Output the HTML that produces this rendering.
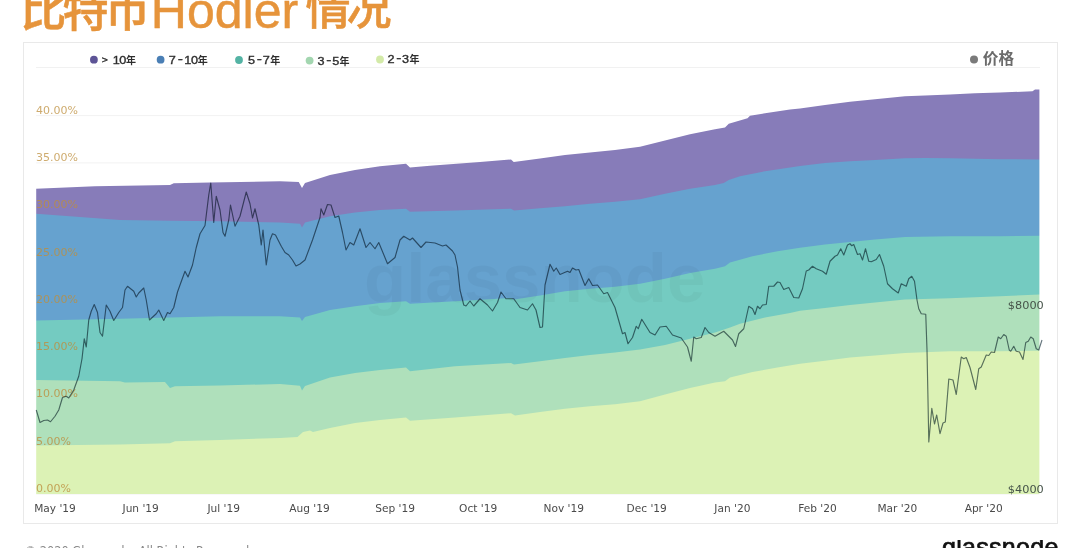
<!DOCTYPE html>
<html lang="zh"><head><meta charset="utf-8"><title>比特币Hodler情况</title>
<style>
html,body{margin:0;padding:0;background:#fff;}
body{width:1080px;height:548px;overflow:hidden;position:relative;font-family:"Liberation Sans","Noto Sans CJK SC",sans-serif;}
.title{position:absolute;left:0;top:0;margin:0;font-size:46px;font-weight:500;-webkit-text-stroke:0.6px #e6943b;color:#e6943b;white-space:nowrap;line-height:50px;letter-spacing:-4px;}
.title span{position:absolute;display:block;}
.t1{left:20.6px;top:-15px;}
.t2{left:150.8px;top:-19px;letter-spacing:0;font-size:50px;line-height:60px;font-weight:normal;-webkit-text-stroke:0.5px #e6943b;}
.t3{left:305.6px;top:-15px;font-size:45px;}
.card{position:absolute;left:23px;top:42px;width:1034.5px;height:482px;border:1px solid #e9e9e9;box-sizing:border-box;background:#fff;}
svg{position:absolute;left:0;top:0;}
.yl{font-family:"DejaVu Sans","Liberation Sans",sans-serif;font-size:11px;fill:#bd8f3e;}
.xl{font-family:"DejaVu Sans","Liberation Sans",sans-serif;font-size:10.6px;fill:#4a4a4a;}
.pl{font-family:"DejaVu Sans","Liberation Sans",sans-serif;font-size:11.3px;fill:#46544a;}
.lg{font-family:"Liberation Sans","Noto Sans CJK SC",sans-serif;font-size:11px;fill:#2e2e2e;stroke:#2e2e2e;stroke-width:0.35px;}
.nian{font-size:10px;font-weight:bold;stroke:none;}
.pg{font-family:"Liberation Sans","Noto Sans CJK SC",sans-serif;font-size:15.6px;font-weight:bold;fill:#6b6b6b;}
.wm{font-family:"Liberation Sans",sans-serif;font-size:69px;font-weight:bold;fill:#000;fill-opacity:0.03;}
.copy{position:absolute;left:24.7px;top:543.9px;line-height:14px;font-family:"DejaVu Sans","Liberation Sans",sans-serif;font-size:11.4px;color:#888;white-space:nowrap;}
.logowrap{position:absolute;left:900px;top:540px;width:180px;height:8px;overflow:hidden;}
.logo{position:absolute;left:42px;top:-8.3px;letter-spacing:0.3px;font-family:"Liberation Sans",sans-serif;font-size:25px;font-weight:normal;-webkit-text-stroke:0.7px #111;color:#111;white-space:nowrap;line-height:30px;}
</style></head><body>
<h1 class="title"><span class="t1">比特币</span><span class="t2">Hodler</span><span class="t3">情况</span></h1>
<div class="card"></div>
<svg width="1080" height="548" viewBox="0 0 1080 548">
<line x1="36" x2="1040" y1="67.5" y2="67.5" stroke="#f1f1f1" stroke-width="1"/>
<line x1="36" x2="1040" y1="494.0" y2="494.0" stroke="#f2f2f2" stroke-width="1"/>
<line x1="36" x2="1040" y1="446.7" y2="446.7" stroke="#f2f2f2" stroke-width="1"/>
<line x1="36" x2="1040" y1="399.4" y2="399.4" stroke="#f2f2f2" stroke-width="1"/>
<line x1="36" x2="1040" y1="352.1" y2="352.1" stroke="#f2f2f2" stroke-width="1"/>
<line x1="36" x2="1040" y1="304.8" y2="304.8" stroke="#f2f2f2" stroke-width="1"/>
<line x1="36" x2="1040" y1="257.5" y2="257.5" stroke="#f2f2f2" stroke-width="1"/>
<line x1="36" x2="1040" y1="210.2" y2="210.2" stroke="#f2f2f2" stroke-width="1"/>
<line x1="36" x2="1040" y1="162.9" y2="162.9" stroke="#f2f2f2" stroke-width="1"/>
<line x1="36" x2="1040" y1="115.6" y2="115.6" stroke="#f2f2f2" stroke-width="1"/>
<path d="M33,188.75 L36,188.75 L95,186.25 L170,185 L173.75,183.25 L210,182.5 L280,181.25 L298.75,182 L302,188 L305,183 L330,175 L355,170 L380,166.25 L406,163.75 L410,167.5 L430,165.75 L480,162 L511,159.5 L513.75,162 L540,158.5 L565,155 L590,152.5 L615,150 L640,146.75 L665,140.5 L690,134.25 L715,129.25 L725,127.5 L728.75,123.75 L747.5,118.25 L750,115.75 L765,113.25 L790,109.5 L800,108.5 L825,105 L850,101.75 L875,99.25 L905,96.25 L925,95.5 L950,94.5 L975,93.25 L1000,92.5 L1032.5,91.25 L1035,89.5 L1039.5,89.5 L1042.5,89.5 L1042.5,494 L33,494 Z" fill="#877cb9"/>
<path d="M33,213.75 L36,213.75 L70,216.25 L120,220 L170,220.75 L220,221.25 L280,222.5 L300,223.75 L302,227.5 L305,222.5 L330,216.25 L355,212.5 L380,210 L406,208.75 L410,211.75 L455,210.5 L511,208.75 L514,210.5 L540,208.3 L565,206.25 L590,203.75 L615,201.75 L640,199.25 L665,193.75 L690,188.75 L715,185 L723.75,183 L728.75,180 L740,176.25 L765,171.25 L790,167.5 L800,166 L825,163 L850,161.25 L875,160 L905,158.25 L925,158 L950,158.25 L975,158.75 L1000,159.25 L1039.5,159.5 L1042.5,159.5 L1042.5,494 L33,494 Z" fill="#66a2cf"/>
<path d="M33,320.5 L36,320.5 L120,318.75 L220,316.25 L280,316.25 L300,317.5 L302,321 L305,317 L330,310 L355,306.25 L380,303 L406,301.25 L410,303.75 L455,301.25 L511,298 L514,299.5 L540,295.5 L565,291.25 L590,288.75 L615,286.75 L640,283.75 L665,278.75 L690,273 L715,268.75 L725,266.25 L730,262.5 L752.5,256.25 L777.5,251.25 L800,247.8 L825,244.5 L850,242 L875,239.5 L905,237 L950,236.25 L1000,236.25 L1039.5,235.75 L1042.5,235.75 L1042.5,494 L33,494 Z" fill="#74cbc1"/>
<path d="M33,380 L36,380 L120,381.25 L125,382.5 L165,382 L170,388 L175,386.25 L220,385.5 L280,384 L300,385.75 L302,390.5 L305,386 L330,377.5 L355,373 L380,370 L406,367.5 L410,371.25 L455,366.25 L511,363 L514,364.5 L540,361.25 L565,358 L590,355 L615,352.5 L640,349.5 L665,345 L690,338.75 L715,332.5 L730,327.5 L740,323.75 L765,317.5 L790,313 L800,310.75 L825,308 L850,305 L875,302.5 L905,299.5 L950,298.25 L1000,296.25 L1039.5,294.5 L1042.5,294.5 L1042.5,494 L33,494 Z" fill="#afe0bb"/>
<path d="M33,445.5 L36,445.5 L120,444.5 L170,443.25 L175,441.25 L220,440 L280,438 L297.5,437 L303,432 L310,430.5 L313,432 L330,428 L355,423 L380,420 L406,417.5 L410,420.75 L455,417.5 L511,413.25 L515,415.5 L540,412 L565,408.75 L590,406.25 L615,404.25 L640,401.25 L665,394.5 L690,388 L715,382.5 L725,381.25 L730,377.5 L752.5,372 L777.5,367.5 L800,363.75 L825,360.75 L850,357.5 L875,355.5 L905,353 L950,351.25 L1000,351.25 L1039.5,350.75 L1042.5,350.75 L1042.5,494 L33,494 Z" fill="#dcf2b5"/>
<rect x="24.5" y="75" width="11.7" height="425" fill="#fff"/><rect x="1039.4" y="75" width="16.5" height="425" fill="#fff"/>
<text x="36" y="492.0" class="yl" fill-opacity="0.8">0.00%</text>
<text x="36" y="444.7" class="yl" fill-opacity="0.8">5.00%</text>
<text x="36" y="397.4" class="yl" fill-opacity="0.8">10.00%</text>
<text x="36" y="350.1" class="yl" fill-opacity="0.8">15.00%</text>
<text x="36" y="302.8" class="yl" fill-opacity="0.8">20.00%</text>
<text x="36" y="255.5" class="yl" fill-opacity="0.8">25.00%</text>
<text x="36" y="208.2" class="yl" fill-opacity="0.8">30.00%</text>
<text x="36" y="160.9" class="yl" fill-opacity="0.75">35.00%</text>
<text x="36" y="113.6" class="yl" fill-opacity="0.75">40.00%</text>
<text x="364" y="302" class="wm">glassnode</text>
<path d="M36.25,410 L40,422.5 L43.75,420.5 L47.5,420 L50.5,421.75 L55,416.25 L58.75,410 L62.5,397.5 L66.25,396.25 L68.75,398 L73.75,390 L78.75,376.25 L82,358.75 L84.25,338.75 L86.25,347 L88.75,320 L91.25,311.25 L94.25,304.5 L97.5,312.5 L100,332.5 L102.5,336.25 L106.25,305 L110,311.25 L113.75,320.5 L118.75,312.5 L122.5,307.5 L125,290 L127.5,286.25 L133.75,291.25 L136.25,297 L138.75,293 L143.75,288 L146.25,300 L149.5,320 L156.25,313.75 L158.75,310 L163.75,320.5 L167.5,312.5 L170,313.75 L173.75,307.5 L177.5,292 L180,285 L185,271.25 L188,277 L192.5,265 L196.25,247.5 L200,233.75 L205,225.5 L208.75,195 L210.75,183 L213.75,222.5 L216.25,196.25 L220,210 L223,232.5 L225,236.25 L228.75,220 L230.5,205 L235,226.25 L240,216.25 L246.25,192 L250,203.75 L252.5,218 L255,208.75 L258.75,225 L261.25,245 L263,230 L266.25,265 L270,240 L272.5,233.75 L275.5,235 L281.25,246.25 L285,252.5 L288.75,255 L292.5,260 L296,266 L300,264 L305,260 L312.5,240 L320,217.5 L321,208.75 L323.75,215 L327.5,204.5 L331,205 L335,217.5 L338.75,216 L342.5,232.5 L346,250 L350,242.5 L353.75,245 L360,228.75 L366,247.5 L370,242.5 L375,248.75 L378.75,242.5 L387.5,263.75 L395,257.5 L400,240 L403.75,236.25 L410,240 L412.5,238 L421,247.5 L426,242 L435,243 L442.5,246 L446,245 L452.5,251 L455,255 L457.5,267 L460,290 L463.75,305 L466,306 L470,301 L473.75,306 L480,298.75 L487.5,305 L492.5,311 L497.5,302.5 L501,292 L506,298.75 L513.75,298.75 L520,307.5 L527.5,310 L532.5,303.75 L536,310 L540,327.5 L542.5,327 L545,285 L550,264.25 L553.75,271.25 L556.25,268 L560,274.5 L567.5,271.25 L570,272.5 L572.5,268 L576,270 L578.75,269.5 L585,285.5 L588.75,278.75 L592.5,285.5 L597.5,285 L603.75,293.75 L607.5,292.5 L615,307.5 L622.5,333.75 L625,332.5 L628,343.75 L632.5,337.5 L636.25,326.25 L638.25,328.75 L641.75,319.25 L650,332.5 L655,335 L660,327 L666.25,326.25 L672.5,335 L681.25,338 L687.5,347 L691.25,361.25 L693.75,337 L696.25,338.75 L701.25,337.5 L705,327.5 L708.75,332.5 L715,336.25 L723.75,331.25 L727.5,335 L732.5,340 L735.5,346.5 L738.75,333.75 L743.75,328.75 L748.75,306.25 L752.5,308.75 L755,314.5 L757.5,306.25 L760,308.75 L762.5,305 L766.25,304.5 L768.75,286.25 L773.75,286.25 L777.5,282 L780,282.5 L783.75,289.5 L788.75,287.5 L793.75,297.5 L798.75,298 L802.5,288.75 L806.25,271 L808.75,270 L812.5,266.25 L816.25,268.75 L822.5,271.25 L826.25,274.25 L830,261.25 L835,256.25 L837.5,255 L840.75,248.75 L843.75,255 L847.5,245 L850,243.75 L851.75,245.75 L853.75,244.5 L857.5,254.5 L860,253.75 L862.5,260 L865.5,248.75 L868.75,261.25 L871.25,261.75 L876.25,259.5 L879.5,254.5 L883.75,266.25 L887.5,283.75 L892.5,288.75 L898.25,293 L901.25,283.75 L906.25,286.25 L908.75,278.75 L911.75,276.25 L914.5,281.25 L917,300 L918.75,308.75 L921.25,313.75 L925.75,314.25 L927,350 L928,400 L928.8,442 L931.8,408.3 L934.5,424 L936.7,415 L940,433.7 L943,423 L945.3,422 L948.8,379 L953,380 L956.25,394.5 L961.25,357 L963.75,358.75 L966.25,357.5 L970,367.5 L975.75,389.5 L978.75,368.75 L981.25,367 L986.25,355 L988.75,355.5 L991.25,352 L994.5,352.5 L998.25,337 L1000.75,338.75 L1003.75,334.5 L1006.25,336.25 L1009.25,350 L1010.75,351.25 L1013.75,346.25 L1016.25,351.25 L1019.5,352 L1023,359.5 L1025.75,342.5 L1028.25,341.25 L1030.75,337 L1033.25,338.75 L1036.25,348.75 L1038.75,350 L1042,340" fill="none" stroke="#67777f" stroke-width="1.15" style="mix-blend-mode:multiply" stroke-linejoin="round"/>
<text x="55.0" y="512.2" class="xl" text-anchor="middle">May '19</text>
<text x="140.7" y="512.2" class="xl" text-anchor="middle">Jun '19</text>
<text x="223.7" y="512.2" class="xl" text-anchor="middle">Jul '19</text>
<text x="309.4" y="512.2" class="xl" text-anchor="middle">Aug '19</text>
<text x="395.1" y="512.2" class="xl" text-anchor="middle">Sep '19</text>
<text x="478.1" y="512.2" class="xl" text-anchor="middle">Oct '19</text>
<text x="563.8" y="512.2" class="xl" text-anchor="middle">Nov '19</text>
<text x="646.7" y="512.2" class="xl" text-anchor="middle">Dec '19</text>
<text x="732.4" y="512.2" class="xl" text-anchor="middle">Jan '20</text>
<text x="817.4" y="512.2" class="xl" text-anchor="middle">Feb '20</text>
<text x="897.3" y="512.2" class="xl" text-anchor="middle">Mar '20</text>
<text x="983.7" y="512.2" class="xl" text-anchor="middle">Apr '20</text>
<circle cx="93.9" cy="59.7" r="3.9" fill="#5d5496"/><text transform="scale(1.15 1)" x="88.57 98.04 103.78" dy="-0.7 0.7 0.0" y="63.6" class="lg"><tspan font-size="9">&gt;</tspan>10</text><text x="126.1" y="63.6" class="lg nian">年</text>
<circle cx="160.6" cy="59.7" r="3.9" fill="#4a7fb5"/><text transform="scale(1.15 1)" x="146.65 154.57 160.30 166.04" dy="0.0 -0.5 0.5 0.0" y="63.6" class="lg">7<tspan font-size="13.5">-</tspan>10</text><text x="197.7" y="63.6" class="lg nian">年</text>
<circle cx="239" cy="60" r="3.9" fill="#54b3a4"/><text transform="scale(1.15 1)" x="215.61 223.35 228.48" dy="0.0 -0.5 0.5" y="63.7" class="lg">5<tspan font-size="13.5">-</tspan>7</text><text x="270.3" y="63.7" class="lg nian">年</text>
<circle cx="309.6" cy="60.6" r="3.9" fill="#a3d6b0"/><text transform="scale(1.15 1)" x="276.04 283.61 288.91" dy="0.0 -0.5 0.5" y="64.7" class="lg">3<tspan font-size="13.5">-</tspan>5</text><text x="339.4" y="64.7" class="lg nian">年</text>
<circle cx="380" cy="59.5" r="3.9" fill="#d3eaa8"/><text transform="scale(1.15 1)" x="336.91 344.48 349.61" dy="0.0 -0.5 0.5" y="62.8" class="lg">2<tspan font-size="13.5">-</tspan>3</text><text x="409.6" y="62.8" class="lg nian">年</text>
<circle cx="974" cy="59.6" r="4" fill="#7a7a7a"/><text x="982.8" y="64.3" class="pg">价格</text>
<text x="1043.8" y="309.3" class="pl" text-anchor="end">$8000</text>
<text x="1043.8" y="492.5" class="pl" text-anchor="end">$4000</text>
</svg>
<div class="copy">© 2020 Glassnode. All Rights Reserved.</div>
<div class="logowrap"><div class="logo">glassnode</div></div>
</body></html>
